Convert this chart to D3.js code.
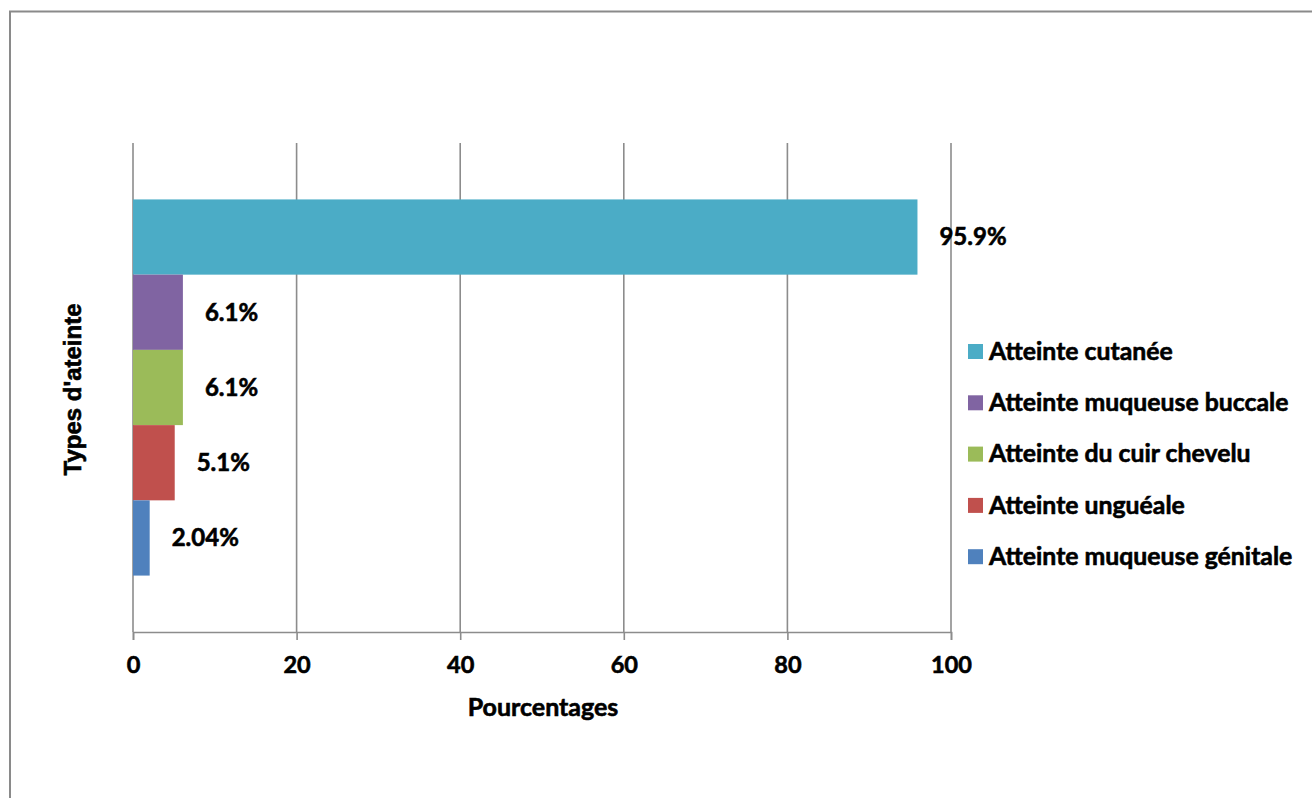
<!DOCTYPE html>
<html>
<head>
<meta charset="utf-8">
<script src="https://cdn.jsdelivr.net/npm/d3@7/dist/d3.min.js"></script>
<style>
  html, body { margin: 0; padding: 0; background: #fff; }
  svg { display: block; }
  text { font-family: Lato, "Open Sans", sans-serif; font-weight: 700; fill: #000;
         stroke: #000; stroke-width: 0.6px; }
</style>
</head>
<body>
<svg id="chart" width="1312" height="798"></svg>
<script>
// Types d'atteinte, in drawing order from top to bottom
const categories = [
  "Atteinte cutanée",
  "Atteinte muqueuse buccale",
  "Atteinte du cuir chevelu",
  "Atteinte unguéale",
  "Atteinte muqueuse génitale"
];
const values = [95.9, 6.1, 6.1, 5.1, 2.04];
const valueLabels = ["95.9%", "6.1%", "6.1%", "5.1%", "2.04%"];
const colors = ["#4bacc6", "#8064a2", "#9bbb59", "#c0504d", "#4f81bd"];
const xTicks = [0, 20, 40, 60, 80, 100];

const svg = d3.select("#chart");

// outer frame
svg.append("rect")
  .attr("x", 10).attr("y", 11.5)
  .attr("width", 1340).attr("height", 820)
  .attr("fill", "none").attr("stroke", "#8a8a8a").attr("stroke-width", 2);

const plot = { left: 133, right: 951, top: 143, bottom: 632 };

const x = d3.scaleLinear().domain([0, 100]).range([plot.left, plot.right]);
const y = d3.scaleBand().domain(categories)
  .range([plot.top, plot.bottom])
  .paddingInner(0).paddingOuter(0.75);

// vertical gridlines
svg.append("g").selectAll("line").data(xTicks).join("line")
  .attr("x1", d => x(d)).attr("x2", d => x(d))
  .attr("y1", plot.top).attr("y2", plot.bottom)
  .attr("stroke", "#8c8c8c").attr("stroke-width", 1.6);

// bars
svg.append("g").selectAll("rect").data(categories).join("rect")
  .attr("x", x(0))
  .attr("y", d => y(d))
  .attr("width", (d, i) => x(values[i]) - x(0))
  .attr("height", y.bandwidth())
  .attr("fill", (d, i) => colors[i]);

// x axis
const xAxis = d3.axisBottom(x).tickValues(xTicks).tickSize(8).tickPadding(16).tickFormat(d3.format("d"));
const gx = svg.append("g").attr("transform", `translate(0,${plot.bottom})`).call(xAxis);
gx.select(".domain").attr("stroke", "#8c8c8c").attr("stroke-width", 1.6);
gx.selectAll(".tick line").attr("stroke", "#8c8c8c").attr("stroke-width", 1.6);
gx.selectAll(".tick text")
  .attr("font-size", 23.5).attr("font-family", "Lato, sans-serif").attr("font-weight", 700)
  .attr("fill", "#000");

// value labels
svg.append("g").selectAll("text").data(categories).join("text")
  .attr("x", (d, i) => x(values[i]) + 22)
  .attr("y", d => y(d) + y.bandwidth() / 2)
  .attr("dy", "0.35em")
  .attr("font-size", 24)
  .text((d, i) => valueLabels[i]);

// axis titles
svg.append("text")
  .attr("x", (plot.left + plot.right) / 2 + 1).attr("y", 707)
  .attr("dy", "0.35em").attr("text-anchor", "middle")
  .attr("font-size", 25)
  .text("Pourcentages");

svg.append("text")
  .attr("transform", `translate(73,${(plot.top + plot.bottom) / 2 + 2}) rotate(-90)`)
  .attr("dy", "0.35em").attr("text-anchor", "middle")
  .style("font-family", "'Liberation Sans', Arial, sans-serif")
  .attr("font-size", 24)
  .text("Types d'ateinte");

// legend
const legend = svg.append("g").attr("transform", "translate(968,351)");
const rows = legend.selectAll("g").data(categories).join("g")
  .attr("transform", (d, i) => `translate(0,${i * 51.3})`);
rows.append("rect")
  .attr("x", 0).attr("y", -7).attr("width", 15).attr("height", 15)
  .attr("fill", (d, i) => colors[i]);
rows.append("text")
  .attr("x", 21).attr("y", 0).attr("dy", "0.35em")
  .attr("font-size", 24.8)
  .text(d => d);
</script>
</body>
</html>
